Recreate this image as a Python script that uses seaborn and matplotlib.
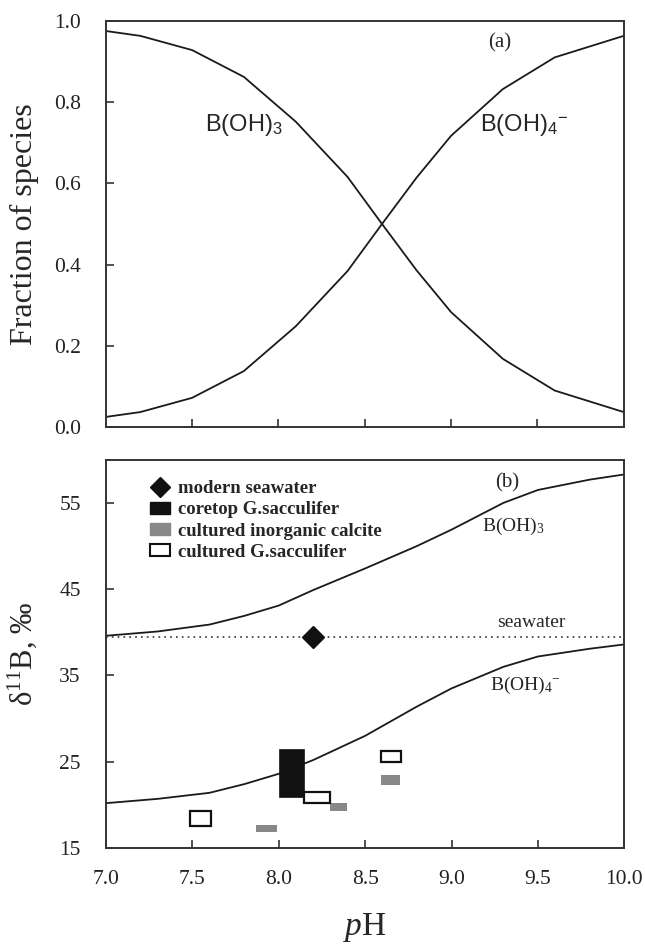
import matplotlib
matplotlib.use("Agg")
import matplotlib.pyplot as plt
import seaborn as sns
import pandas as pd
from matplotlib.lines import Line2D
from matplotlib.patches import Patch

sns.set_theme(style="white")
plt.rcParams['font.family'] = ['Liberation Serif', 'DejaVu Serif']
plt.rcParams['mathtext.fontset'] = 'custom'
plt.rcParams['mathtext.rm'] = 'Liberation Serif'
plt.rcParams['mathtext.sf'] = 'Liberation Sans'
plt.rcParams['mathtext.it'] = 'Liberation Serif:italic'

# ---- panel (a) data: fraction of species vs pH
ph_a = [7.0, 7.2, 7.5, 7.8, 8.1, 8.4, 8.6, 8.8, 9.0, 9.3, 9.6, 10.0]
frac_boh3 = [0.975, 0.963, 0.928, 0.862, 0.752, 0.616, 0.50, 0.386, 0.283, 0.168, 0.09, 0.037]
frac_boh4 = [0.025, 0.037, 0.072, 0.138, 0.248, 0.384, 0.50, 0.614, 0.717, 0.832, 0.91, 0.963]

# ---- panel (b) data: d11B vs pH
ph_b = [7.0, 7.3, 7.6, 7.8, 8.0, 8.2, 8.5, 8.8, 9.0, 9.3, 9.5, 9.8, 10.0]
d11b_boh3 = [39.6, 40.1, 40.9, 41.9, 43.1, 44.9, 47.4, 50.0, 51.9, 55.0, 56.5, 57.7, 58.3]
d11b_boh4 = [20.2, 20.7, 21.4, 22.4, 23.6, 25.2, 28.0, 31.4, 33.5, 36.0, 37.2, 38.1, 38.6]
seawater_d11b = 39.5
modern_sw_ph = 8.2

# rectangles: (pH low, pH high, d11B low, d11B high)
coretop = [(8.005, 8.145, 20.9, 26.4)]
inorganic = [(7.87, 7.99, 16.85, 17.7), (8.295, 8.395, 19.3, 20.2), (8.59, 8.70, 22.3, 23.5)]
cultured = [(7.49, 7.61, 17.55, 19.25), (8.145, 8.295, 20.2, 21.55), (8.595, 8.71, 25.0, 26.2)]

fig = plt.figure(figsize=(6.45, 9.47), dpi=100)
ax1 = fig.add_axes([0.164, 0.549, 0.803, 0.429])
ax2 = fig.add_axes([0.164, 0.1045, 0.804, 0.410])

df_a = pd.DataFrame({"pH": ph_a * 2, "frac": frac_boh3 + frac_boh4,
                     "sp": ["B3"] * len(ph_a) + ["B4"] * len(ph_a)})
sns.lineplot(data=df_a, x="pH", y="frac", units="sp", estimator=None,
             color="#1a1a1a", lw=1.3, ax=ax1, legend=False)
ax1.set_xlim(7.0, 10.0)
ax1.set_ylim(0.0, 1.0)
ax1.set_xticks([7.5, 8.0, 8.5, 9.0, 9.5])
ax1.set_xticklabels([])
ax1.set_yticks([0.0, 0.2, 0.4, 0.6, 0.8, 1.0])
ax1.set_yticklabels(["0.0", "0.2", "0.4", "0.6", "0.8", "1.0"])
ax1.set_xlabel("")
ax1.set_ylabel("Fraction of species", fontsize=23)
ax1.yaxis.set_label_coords(-0.128, 0.5)
ax1.text(9.28, 0.945, "(a)", fontsize=15, ha="center", va="center")
ax1.text(7.80, 0.744, r"B(OH)$_\mathsf{3}$", fontsize=17, ha="center", va="center",
         family="Liberation Sans")
ax1.text(9.42, 0.744, r"B(OH)$_\mathsf{4}$$^\mathsf{-}$", fontsize=17, ha="center", va="center",
         family="Liberation Sans")

df_b = pd.DataFrame({"pH": ph_b * 2, "d": d11b_boh3 + d11b_boh4,
                     "sp": ["B3"] * len(ph_b) + ["B4"] * len(ph_b)})
sns.lineplot(data=df_b, x="pH", y="d", units="sp", estimator=None,
             color="#1a1a1a", lw=1.3, ax=ax2, legend=False)
ax2.axhline(seawater_d11b, color="#333333", lw=1.2, ls=(0, (1, 2.5)))

for (x0, x1, y0, y1) in coretop:
    ax2.bar(x0, y1 - y0, bottom=y0, width=x1 - x0, align="edge",
            color="#111111", edgecolor="#111111", lw=1.2, zorder=3)
for (x0, x1, y0, y1) in inorganic:
    ax2.bar(x0, y1 - y0, bottom=y0, width=x1 - x0, align="edge",
            color="#888888", edgecolor="#888888", lw=0, zorder=3)
for (x0, x1, y0, y1) in cultured:
    ax2.bar(x0, y1 - y0, bottom=y0, width=x1 - x0, align="edge",
            facecolor="white", edgecolor="#111111", lw=1.6, zorder=3)
ax2.plot([modern_sw_ph], [seawater_d11b], marker="D", ms=11, color="#111111", zorder=4)

ax2.set_xlim(7.0, 10.0)
ax2.set_ylim(15, 60)
ax2.set_xticks([7.0, 7.5, 8.0, 8.5, 9.0, 9.5, 10.0])
ax2.set_xticklabels(["7.0", "7.5", "8.0", "8.5", "9.0", "9.5", "10.0"])
ax2.set_yticks([15, 25, 35, 45, 55])
ax2.set_ylabel(r"δ$^{11}$B, ‰", fontsize=22)
ax2.yaxis.set_label_coords(-0.128, 0.5)
ax2.set_xlabel(r"$\it{p}$H", fontsize=24)
ax2.xaxis.set_label_coords(0.5, -0.162)
ax2.text(9.32, 57.3, "(b)", fontsize=15, ha="center", va="center")
ax2.text(9.46, 41.1, "seawater", fontsize=14, ha="center", va="center")
ax2.text(9.36, 52.3, r"B(OH)$_3$", fontsize=14, ha="center", va="center")
ax2.text(9.43, 33.9, r"B(OH)$_4$$^{-}$", fontsize=14, ha="center", va="center")

handles = [
    Line2D([], [], marker="D", ls="none", color="#111111", ms=10),
    Patch(facecolor="#111111", edgecolor="#111111"),
    Patch(facecolor="#888888", edgecolor="#888888"),
    Patch(facecolor="white", edgecolor="#111111", lw=1.5),
]
labels = ["modern seawater", "coretop G.sacculifer", "cultured inorganic calcite",
          "cultured G.sacculifer"]
ax2.legend(handles, labels, loc="upper left", bbox_to_anchor=(0.085, 0.947), frameon=False,
           prop={"size": 13.5, "weight": "bold"}, handlelength=1.07, handleheight=0.64,
           handletextpad=0.45, labelspacing=0.22, borderaxespad=0, borderpad=0)

for ax in (ax1, ax2):
    for s in ax.spines.values():
        s.set_visible(True)
        s.set_color("#333333")
        s.set_linewidth(1.4)
    ax.tick_params(direction="in", length=6, width=1.2, colors="#333333",
                   labelcolor="#222222", labelsize=15.5, pad=18,
                   bottom=True, left=True, top=False, right=False)
ax2.tick_params(axis="x", pad=16)

fig.savefig("out.png", dpi=100, facecolor="white")
